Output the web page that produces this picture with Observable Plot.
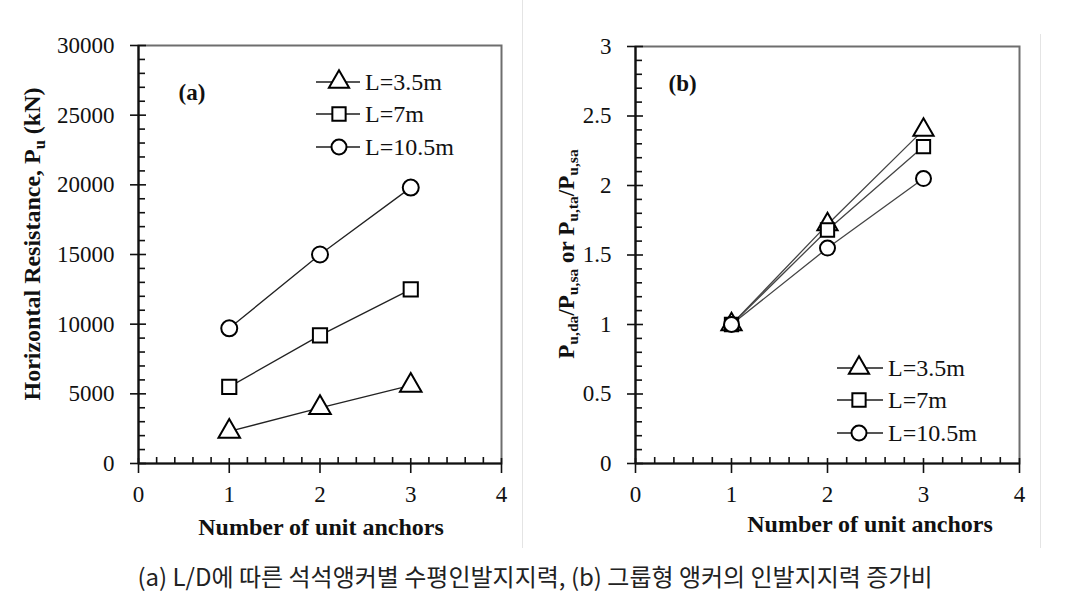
<!DOCTYPE html>
<html><head><meta charset="utf-8">
<script src="https://cdn.jsdelivr.net/npm/d3@7"></script>
<script src="https://cdn.jsdelivr.net/npm/@observablehq/plot@0.6"></script>
<style>
body{margin:0;background:#fff;}
#wrap{position:relative;width:1070px;height:613px;overflow:hidden;background:#fff;}
.panel{position:absolute;top:0;}
.sep{position:absolute;width:1px;background:#e4e4e4;}
#caption{position:absolute;left:0;top:560px;width:1070px;text-align:center;font-family:"Noto Sans CJK KR";font-size:24px;line-height:32px;color:#222;}
</style></head><body>
<div id="wrap">
  <div class="sep" style="left:522px;top:0;height:548px"></div>
  <div class="sep" style="left:1040px;top:34px;height:514px"></div>
  <div id="left" class="panel" style="left:0px"></div>
  <div id="right" class="panel" style="left:522px"></div>
  <div id="caption"></div>
</div>
<script>
// ---- data ----
const anchors = [1, 2, 3];
const seriesNames = ["L=3.5m", "L=7m", "L=10.5m"];
const seriesSymbols = ["triangle", "square", "circle"];
const resistanceL35 = [2300, 4000, 5600];
const resistanceL7 = [5500, 9200, 12500];
const resistanceL105 = [9700, 15000, 19800];
const ratioL35 = [1, 1.72, 2.4];
const ratioL7 = [1, 1.68, 2.28];
const ratioL105 = [1, 1.55, 2.05];
const xTicks = [0, 1, 2, 3, 4];
const yTicksLeft = [0, 5000, 10000, 15000, 20000, 25000, 30000];
const yTicksRight = [0, 0.5, 1, 1.5, 2, 2.5, 3];
const panelLabels = ["(a)", "(b)"];
const xTitle = "Number of unit anchors";
const captionText = "(a) L/D에 따른 석석앵커별 수평인발지지력, (b) 그룹형 앵커의 인발지지력 증가비";

function rows(seriesValues) {
  const out = [];
  seriesValues.forEach((vals, s) => vals.forEach((v, i) => out.push({n: anchors[i], v, series: seriesNames[s]})));
  return out;
}
const leftRows = rows([resistanceL35, resistanceL7, resistanceL105]);
const rightRows = rows([ratioL35, ratioL7, ratioL105]);

const SERIF = "Liberation Serif, DejaVu Serif, serif";
const INK = "#111";

function makePanel(cfg) {
  const xMinor = d3.range(0, 4.0001, 0.2).filter(d => Math.abs(d - Math.round(d)) > 1e-6);
  const yStep = (cfg.yMajor[1] - cfg.yMajor[0]) / 5;
  const yMinor = d3.range(cfg.yMajor[0], cfg.yMajor[cfg.yMajor.length - 1] + yStep / 2, yStep)
    .filter(d => !cfg.yMajor.some(m => Math.abs(m - d) < yStep / 10));
  return Plot.plot({
    width: cfg.width, height: 545,
    marginLeft: cfg.marginLeft, marginRight: cfg.marginRight, marginTop: cfg.marginTop, marginBottom: cfg.marginBottom,
    x: {domain: [0, 4], label: null},
    y: {domain: cfg.yDomain, label: null},
    symbol: {domain: seriesNames, range: seriesSymbols},
    style: {fontFamily: SERIF, fontSize: "23px", color: INK, background: "transparent", overflow: "visible"},
    marks: [
      Plot.frame({stroke: "#6e6e6e", strokeWidth: 2}),
      Plot.axisY(yMinor, {tickSize: 7, dx: 7, text: null, label: null, stroke: INK, strokeWidth: 1.6}),
      Plot.axisY(cfg.yMajor, {tickSize: 16, dx: 8, text: null, label: null, stroke: INK, strokeWidth: 1.6}),
      Plot.axisY(cfg.yMajor, {tickSize: 0, tickPadding: 24, label: null, tickFormat: d => String(d), fill: INK, fontFamily: SERIF}),
      Plot.axisX(xMinor, {tickSize: 6, dy: -6, text: null, label: null, stroke: INK, strokeWidth: 1.6}),
      Plot.axisX(xTicks, {tickSize: 15, dy: -5, text: null, label: null, stroke: INK, strokeWidth: 1.6}),
      Plot.axisX(xTicks, {tickSize: 0, tickPadding: 22, label: null, tickFormat: d => String(d), fill: INK, fontFamily: SERIF}),
      Plot.ruleX([0], {stroke: INK, strokeWidth: 2.2}),
      Plot.ruleY([0], {stroke: INK, strokeWidth: 2.2}),
      Plot.line(cfg.data, {x: "n", y: "v", z: "series", stroke: cfg.lineColor, strokeWidth: 1.3}),
      Plot.dot(cfg.data, {x: "n", y: "v", symbol: "series", r: cfg.r, fill: "white", stroke: "#000", strokeWidth: 2}),
      Plot.text([cfg.tag], {frameAnchor: "top-left", textAnchor: "start", lineAnchor: "middle", dx: cfg.tagDx, dy: cfg.tagDy, fontWeight: "bold", fontSize: 23, fill: INK, fontFamily: SERIF})
    ]
  });
}

function addLegend(svg, cfg) {
  const g = d3.select(svg).append("g");
  seriesNames.forEach((name, i) => {
    const y = cfg.rowsY[i];
    g.append("line").attr("x1", cfg.lineX1).attr("x2", cfg.lineX2).attr("y1", y).attr("y2", y)
      .attr("stroke", "#555").attr("stroke-width", 2.2);
    const sym = {triangle: d3.symbolTriangle, square: d3.symbolSquare, circle: d3.symbolCircle}[seriesSymbols[i]];
    g.append("path").attr("d", d3.symbol(sym, Math.PI * cfg.r * cfg.r)())
      .attr("transform", `translate(${cfg.markX},${y})`)
      .attr("fill", "white").attr("stroke", "#000").attr("stroke-width", 2);
    g.append("text").attr("x", cfg.textX).attr("y", y).attr("dy", "0.35em").attr("text-anchor", "start")
      .attr("font-family", SERIF).attr("font-size", 24).attr("fill", INK).text(name);
  });
}

function addTitles(svg, cfg) {
  const s = d3.select(svg);
  s.append("text").attr("x", cfg.xTitleX).attr("y", cfg.xTitleY).attr("text-anchor", "middle")
    .attr("font-family", SERIF).attr("font-size", 24).attr("font-weight", "bold").attr("fill", INK).text(xTitle);
  const t = s.append("text").attr("transform", `translate(${cfg.yTitleX},${cfg.yTitleY}) rotate(-90)`)
    .attr("text-anchor", "middle").attr("font-family", SERIF).attr("font-size", cfg.yTitleSize)
    .attr("font-weight", "bold").attr("fill", INK);
  cfg.yTitleParts.forEach(p => {
    const ts = t.append("tspan").text(p.t);
    if (p.sub) ts.attr("font-size", cfg.yTitleSize * 0.68).attr("dy", "0.28em");
    else if (p.after) ts.attr("dy", "-0.19em");
  });
}

// ---- left panel ----
const left = makePanel({
  data: leftRows, width: 520, yDomain: [0, 30000], yMajor: yTicksLeft,
  marginLeft: 138, marginRight: 19, marginTop: 45, marginBottom: 82,
  lineColor: "#222", r: 8, tag: panelLabels[0], tagDx: 40, tagDy: 47
});
addLegend(left, {rowsY: [82, 114, 147], lineX1: 316, lineX2: 360, markX: 339, textX: 365, r: 7.5});
addTitles(left, {
  xTitleX: 321, xTitleY: 535, yTitleX: 40, yTitleY: 244, yTitleSize: 24,
  yTitleParts: [{t: "Horizontal Resistance, P"}, {t: "u", sub: true}, {t: " (kN)", after: true}]
});
document.getElementById("left").appendChild(left);

// ---- right panel ----
const right = makePanel({
  data: rightRows, width: 548, yDomain: [0, 3], yMajor: yTicksRight,
  marginLeft: 113, marginRight: 51, marginTop: 46, marginBottom: 82,
  lineColor: "#444", r: 7.5, tag: panelLabels[1], tagDx: 33, tagDy: 37
});
addLegend(right, {rowsY: [368, 400, 433], lineX1: 315, lineX2: 361, markX: 337, textX: 366, r: 7.5});
addTitles(right, {
  xTitleX: 348, xTitleY: 532, yTitleX: 52, yTitleY: 254, yTitleSize: 23,
  yTitleParts: [{t: "P"}, {t: "u,da", sub: true}, {t: "/P", after: true}, {t: "u,sa", sub: true},
                {t: " or P", after: true}, {t: "u,ta", sub: true}, {t: "/P", after: true}, {t: "u,sa", sub: true}]
});
document.getElementById("right").appendChild(right);

document.getElementById("caption").textContent = captionText;
</script>
</body></html>
